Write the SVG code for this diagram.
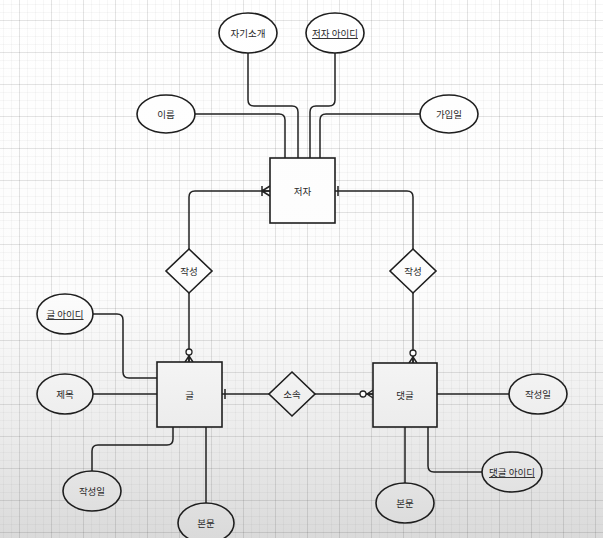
<svg xmlns="http://www.w3.org/2000/svg" width="603" height="538" viewBox="0 0 603 538">
<defs>
<linearGradient id="bg" gradientUnits="userSpaceOnUse" x1="0" y1="0" x2="0" y2="538">
<stop offset="0" stop-color="#ffffff"/>
<stop offset="0.55" stop-color="#fcfcfc"/>
<stop offset="0.8" stop-color="#ececec"/>
<stop offset="1" stop-color="#dadada"/>
</linearGradient>
<pattern id="minor" patternUnits="userSpaceOnUse" x="3" y="4" width="8" height="8">
<path d="M0,0.5 H8 M0.5,0 V8" stroke="#000" stroke-opacity="0.03" stroke-width="1" fill="none"/>
</pattern>
<pattern id="major" patternUnits="userSpaceOnUse" x="19" y="20" width="32" height="32">
<path d="M0,0.5 H32 M0.5,0 V32" stroke="#000" stroke-opacity="0.08" stroke-width="1" fill="none"/>
</pattern>
<marker id="one" markerUnits="userSpaceOnUse" viewBox="-12 -7 14 14" markerWidth="14" markerHeight="14" refX="0" refY="0" orient="auto" overflow="visible">
<path d="M-3,-5 V5" stroke="#222" stroke-width="1.5" fill="none"/>
</marker>
<marker id="oneMany" markerUnits="userSpaceOnUse" viewBox="-12 -7 14 14" markerWidth="14" markerHeight="14" refX="0" refY="0" orient="auto" overflow="visible">
<path d="M-8,-5 V5 M-8,0 L0,-5 M-8,0 L0,5 M-8,0 H0" stroke="#222" stroke-width="1.5" fill="none"/>
</marker>
<marker id="zeroMany" markerUnits="userSpaceOnUse" viewBox="-14 -7 16 14" markerWidth="16" markerHeight="14" refX="0" refY="0" orient="auto" overflow="visible">
<circle cx="-10" cy="0" r="3" fill="#fff" stroke="#222" stroke-width="1.3"/>
<path d="M-7,0 H0 M-6,0 L0,-4 M-6,0 L0,4" stroke="#222" stroke-width="1.5" fill="none"/>
</marker>
</defs>
<style>
.shape{fill:url(#bg);stroke:#1e1e1e;stroke-width:1.6}
.conn{fill:none;stroke:#222;stroke-width:1.5}
text{font-family:"Noto Sans CJK KR","Noto Sans",sans-serif;font-size:9.5px;fill:#2a2a2a;text-anchor:middle;dominant-baseline:central}
.pk{text-decoration:underline}
</style>
<rect x="0" y="0" width="603" height="538" fill="url(#bg)"/>
<rect x="0" y="0" width="603" height="538" fill="url(#minor)"/>
<rect x="0" y="0" width="603" height="538" fill="url(#major)"/>

<g id="connectors">
<path class="conn" d="M195,114 H279 Q285,114 285,120 V158"/>
<path class="conn" d="M248,53 V100 Q248,106 254,106 H292 Q298,106 298,112 V158"/>
<path class="conn" d="M335,53 V100 Q335,106 329,106 H316 Q310,106 310,112 V158"/>
<path class="conn" d="M420,114 H326 Q320,114 320,120 V158"/>
<path class="conn" d="M189,249 V197 Q189,191 195,191 H270" marker-end="url(#oneMany)"/>
<path class="conn" d="M413,249 V197 Q413,191 407,191 H335" marker-end="url(#one)"/>
<path class="conn" d="M189,293 V362" marker-end="url(#zeroMany)"/>
<path class="conn" d="M413,293 V363" marker-end="url(#zeroMany)"/>
<path class="conn" d="M93,314 H117 Q123,314 123,320 V372 Q123,378 129,378 H157"/>
<path class="conn" d="M93,394 H157"/>
<path class="conn" d="M269,394 H222" marker-end="url(#one)"/>
<path class="conn" d="M315,394 H373" marker-end="url(#zeroMany)"/>
<path class="conn" d="M437,394 H509"/>
<path class="conn" d="M173,427 V439 Q173,445 167,445 H98 Q92,445 92,451 V471"/>
<path class="conn" d="M206,427 V503"/>
<path class="conn" d="M405,427 V483"/>
<path class="conn" d="M428,427 V466 Q428,472 434,472 H482"/>
</g>

<g id="author">
<rect class="shape" x="270" y="158" width="65" height="65"/>
<text x="302.5" y="190.5">저자</text>
</g>
<g id="post">
<rect class="shape" x="157" y="362" width="65" height="65"/>
<text x="189.5" y="394.5">글</text>
</g>
<g id="comment">
<rect class="shape" x="373" y="363" width="64" height="64"/>
<text x="405" y="395">댓글</text>
</g>

<g id="rel-write-post">
<polygon class="shape" points="189,249 212,271 189,293 166,271"/>
<text x="189" y="271">작성</text>
</g>
<g id="rel-write-comment">
<polygon class="shape" points="413,249 436,271 413,293 390,271"/>
<text x="413" y="271">작성</text>
</g>
<g id="rel-belong">
<polygon class="shape" points="292,372 315,394 292,416 269,394"/>
<text x="292" y="394">소속</text>
</g>

<g id="attr-intro">
<ellipse class="shape" cx="248" cy="33" rx="29" ry="20"/>
<text x="248" y="33">자기소개</text>
</g>
<g id="attr-author-id">
<ellipse class="shape" cx="335" cy="33" rx="29" ry="20"/>
<text class="pk" x="335" y="33">저자 아이디</text>
</g>
<g id="attr-name">
<ellipse class="shape" cx="166" cy="114" rx="29" ry="19"/>
<text x="166" y="114">이름</text>
</g>
<g id="attr-joined">
<ellipse class="shape" cx="449" cy="114" rx="29" ry="19"/>
<text x="449" y="114">가입일</text>
</g>
<g id="attr-post-id">
<ellipse class="shape" cx="65" cy="314" rx="28" ry="20"/>
<text class="pk" x="65" y="314">글 아이디</text>
</g>
<g id="attr-title">
<ellipse class="shape" cx="65" cy="394" rx="28" ry="20"/>
<text x="65" y="394">제목</text>
</g>
<g id="attr-post-date">
<ellipse class="shape" cx="92" cy="491" rx="29" ry="20"/>
<text x="92" y="491">작성일</text>
</g>
<g id="attr-post-body">
<ellipse class="shape" cx="206" cy="523" rx="28" ry="20"/>
<text x="206" y="523">본문</text>
</g>
<g id="attr-comment-date">
<ellipse class="shape" cx="538" cy="394" rx="29" ry="20"/>
<text x="538" y="394">작성일</text>
</g>
<g id="attr-comment-body">
<ellipse class="shape" cx="405" cy="503" rx="29" ry="20"/>
<text x="405" y="503">본문</text>
</g>
<g id="attr-comment-id">
<ellipse class="shape" cx="512" cy="472" rx="30" ry="20"/>
<text class="pk" x="512" y="472">댓글 아이디</text>
</g>
</svg>
